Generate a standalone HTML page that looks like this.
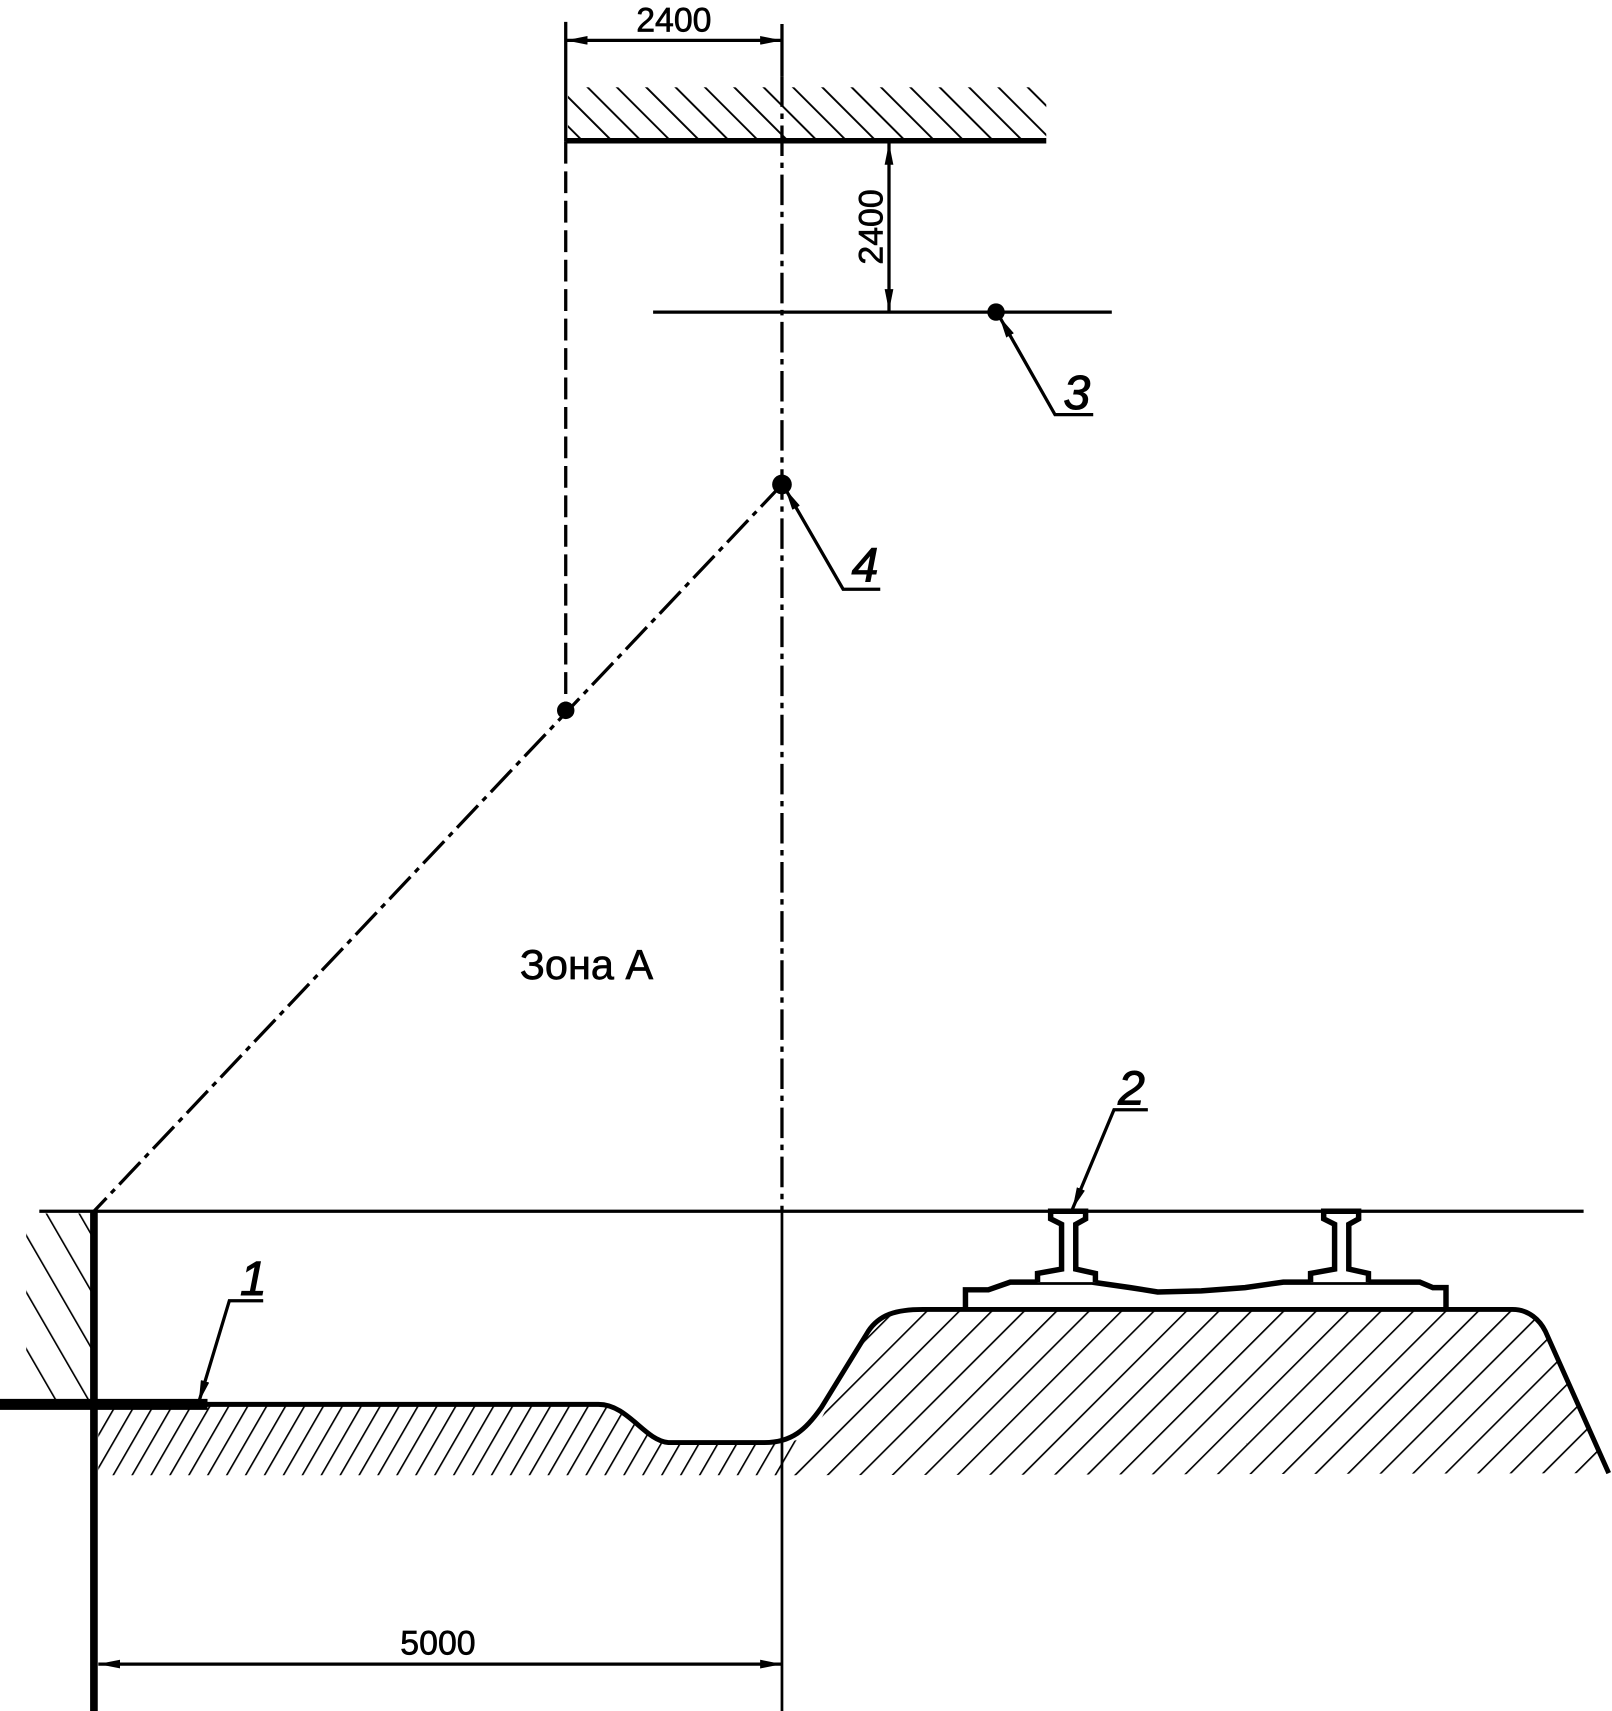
<!DOCTYPE html>
<html><head><meta charset="utf-8"><style>
html,body{margin:0;padding:0;background:#fff;}
svg{display:block}
text{font-family:"Liberation Sans",sans-serif;fill:#000}
</style></head><body>
<svg width="1612" height="1711" viewBox="0 0 1476 1568" preserveAspectRatio="none" xmlns="http://www.w3.org/2000/svg">
<defs>
<pattern id="hc" patternUnits="userSpaceOnUse" width="19" height="19" patternTransform="rotate(-45)"><line x1="0" y1="0" x2="0" y2="19" stroke="#000" stroke-width="3.5"/></pattern>
<pattern id="hw" patternUnits="userSpaceOnUse" width="26" height="26" patternTransform="rotate(-30)"><line x1="0" y1="0" x2="0" y2="26" stroke="#000" stroke-width="3"/></pattern>
<pattern id="hg" patternUnits="userSpaceOnUse" width="15" height="15" patternTransform="rotate(30)"><line x1="0" y1="0" x2="0" y2="15" stroke="#000" stroke-width="3"/></pattern>
<pattern id="hb" patternUnits="userSpaceOnUse" width="21" height="21" patternTransform="rotate(45)"><line x1="0" y1="0" x2="0" y2="21" stroke="#000" stroke-width="3"/></pattern>
<marker id="ar" viewBox="0 0 20 8" refX="20" refY="4" markerWidth="20" markerHeight="8" markerUnits="userSpaceOnUse" orient="auto-start-reverse"><path d="M0,0 L20,4 L0,8 Z" fill="#000"/></marker>
</defs>
<g fill="none" stroke="#000">
<rect x="520" y="80" width="438" height="48" fill="url(#hc)" stroke="none"/>
<line x1="518" y1="129" x2="958" y2="129" stroke-width="5"/>
<line x1="518" y1="20" x2="518" y2="130" stroke-width="3"/>
<line x1="716" y1="22" x2="716" y2="70" stroke-width="3"/>
<line x1="518" y1="37" x2="716" y2="37" stroke-width="3" marker-start="url(#ar)" marker-end="url(#ar)"/>
<line x1="518" y1="130" x2="518" y2="650" stroke-width="3" stroke-dasharray="20,7"/>
<line x1="716" y1="70" x2="716" y2="1110" stroke-width="3" stroke-dasharray="28,6,5,6"/>
<line x1="716" y1="1110" x2="716" y2="1585" stroke-width="2.5"/>
<line x1="814" y1="131" x2="814" y2="285" stroke-width="3" marker-start="url(#ar)" marker-end="url(#ar)"/>
<line x1="598" y1="286" x2="1018" y2="286" stroke-width="3"/>
<line x1="716" y1="444" x2="86" y2="1110" stroke-width="3" stroke-dasharray="28,6,5,6"/>
<polyline points="915,290 966,380 1001,380" stroke-width="3" marker-start="url(#ar)"/>
<polyline points="719,448 772,540 806,540" stroke-width="3" marker-start="url(#ar)"/>
<polyline points="182,1285 210,1192 241,1192" stroke-width="3" marker-start="url(#ar)"/>
<polyline points="982,1108 1020,1017 1051,1017" stroke-width="3" marker-start="url(#ar)"/>
<line x1="36" y1="1110" x2="1450" y2="1110" stroke-width="3"/>
<rect x="24" y="1112" width="60" height="172" fill="url(#hw)" stroke="none"/>
<path d="M90,1289 L548,1289 C575,1289 590,1320 612,1322 L716,1322 C735,1322 745,1310 752,1300 L720,1352 L90,1352 Z" fill="url(#hg)" stroke="none"/>
<path d="M720,1352 L752,1300 L795,1220 C805,1205 820,1200 845,1200 L1385,1200 C1400,1200 1410,1210 1415,1220 L1473,1350 Z" fill="url(#hb)" stroke="none"/>
<path d="M190,1287 L548,1287 C575,1287 590,1320 612,1322 L700,1322 C725,1322 738,1310 752,1290 L795,1220 C805,1205 820,1200 845,1200 L1385,1200 C1400,1200 1410,1210 1415,1220 L1473,1350" stroke-width="4.5"/>
<line x1="86" y1="1110" x2="86" y2="1568" stroke-width="7"/>
<line x1="0" y1="1287" x2="190" y2="1287" stroke-width="10"/>
<path d="M884,1198 L884,1182 L905,1182 L925,1175 L1000,1175 L1035,1180 L1060,1184 L1100,1183 L1140,1180 L1175,1175 L1300,1175 L1312,1180 L1324,1180 L1324,1198" stroke-width="5"/>
<path d="M950,1175 L950,1167 L972,1163 L972,1122 L962,1117 L962,1110 L994,1110 L994,1117 L985,1122 L985,1163 L1003,1167 L1003,1175" stroke-width="5" fill="#fff"/>
<path d="M1200,1175 L1200,1167 L1222,1163 L1222,1122 L1212,1117 L1212,1110 L1244,1110 L1244,1117 L1235,1122 L1235,1163 L1253,1167 L1253,1175" stroke-width="5" fill="#fff"/>
<line x1="90" y1="1525" x2="716" y2="1525" stroke-width="3" marker-start="url(#ar)" marker-end="url(#ar)"/>
</g>
<g fill="#000">
<circle cx="912" cy="286" r="8"/>
<circle cx="716" cy="444" r="9"/>
<circle cx="518" cy="651" r="8"/>
</g>
<g stroke="#000" stroke-width="0.6">
<text x="617" y="29" font-size="31" text-anchor="middle">2400</text>
<text transform="translate(808,208) rotate(-90)" font-size="31" text-anchor="middle">2400</text>
<text x="537" y="897" font-size="38" text-anchor="middle">Зона А</text>
<text x="401" y="1516" font-size="31" text-anchor="middle">5000</text>
</g>
<g font-size="44" font-style="italic" text-anchor="middle" stroke="#000" stroke-width="1">
<text x="986" y="375">3</text>
<text x="792" y="533">4</text>
<text x="232" y="1187">1</text>
<text x="1036" y="1012">2</text>
</g>
</svg>
</body></html>
